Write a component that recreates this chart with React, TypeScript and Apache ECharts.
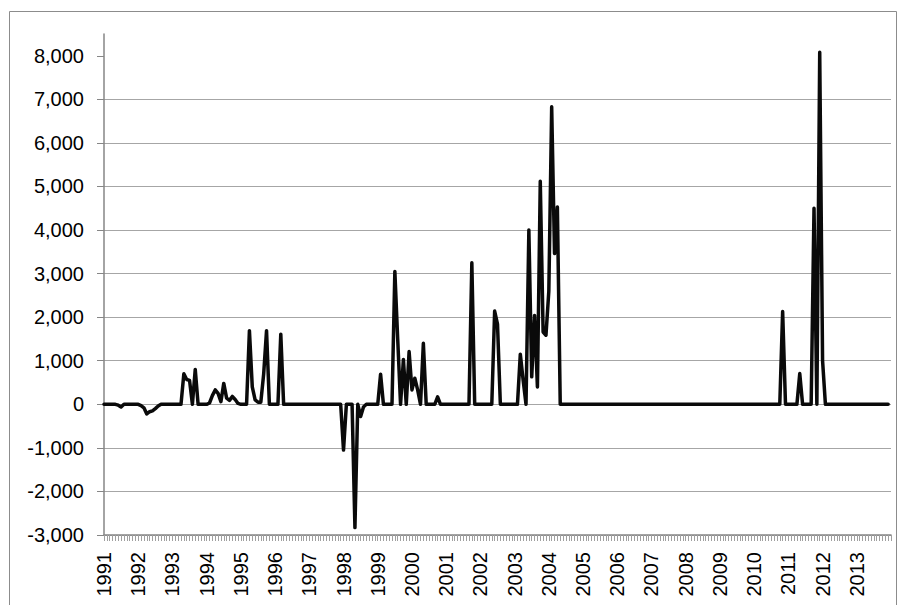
import React, { useEffect, useRef } from "react";
import * as echarts from "echarts";

// Monthly values, Jan 1991 .. Dec 2013 (one row per year)
const values1991to1997: number[] = [
  /*1991*/ 0, 0, 0, 0, 0, -20, -60, 0, 0, 0, 0, 0,
  /*1992*/ 0, -30, -80, -220, -170, -150, -100, -40, 0, 0, 0, 0,
  /*1993*/ 0, 0, 0, 0, 700, 570, 550, 0, 800, 0, 0, 0,
  /*1994*/ 0, 30, 200, 330, 250, 60, 480, 140, 90, 180, 110, 20,
  /*1995*/ 0, 0, 0, 1690, 400, 100, 50, 50, 700, 1690, 0, 0,
  /*1996*/ 0, 0, 1610, 0, 0, 0, 0, 0, 0, 0, 0, 0,
  /*1997*/ 0, 0, 0, 0, 0, 0, 0, 0, 0, 0, 0, 0,
];
const values1998to2004: number[] = [
  /*1998*/ -1050, 0, 0, 0, -2830, 0, -280, -60, 0, 0, 0, 0,
  /*1999*/ 0, 690, 0, 0, 0, 0, 3050, 1500, 0, 1030, 0, 1210,
  /*2000*/ 330, 600, 330, 0, 1400, 0, 0, 0, 0, 170, 0, 0,
  /*2001*/ 0, 0, 0, 0, 0, 0, 0, 0, 0, 3250, 0, 0,
  /*2002*/ 0, 0, 0, 0, 0, 2140, 1840, 0, 0, 0, 0, 0,
  /*2003*/ 0, 0, 1150, 550, 0, 4000, 630, 2040, 400, 5120, 1660, 1585,
  /*2004*/ 2600, 6830, 3460, 4530, 0, 0, 0, 0, 0, 0, 0, 0,
];
const values2005to2013: number[] = [
  /*2005*/ 0, 0, 0, 0, 0, 0, 0, 0, 0, 0, 0, 0,
  /*2006*/ 0, 0, 0, 0, 0, 0, 0, 0, 0, 0, 0, 0,
  /*2007*/ 0, 0, 0, 0, 0, 0, 0, 0, 0, 0, 0, 0,
  /*2008*/ 0, 0, 0, 0, 0, 0, 0, 0, 0, 0, 0, 0,
  /*2009*/ 0, 0, 0, 0, 0, 0, 0, 0, 0, 0, 0, 0,
  /*2010*/ 0, 0, 0, 0, 0, 0, 0, 0, 0, 0, 2130, 0,
  /*2011*/ 0, 0, 0, 0, 705, 0, 0, 0, 0, 4500, 0, 8080,
  /*2012*/ 1000, 0, 0, 0, 0, 0, 0, 0, 0, 0, 0, 0,
  /*2013*/ 0, 0, 0, 0, 0, 0, 0, 0, 0, 0, 0, 0,
];

const yearLabels: string[] = [
  "1991", "1992", "1993", "1994", "1995", "1996", "1997", "1998", "1999", "2000",
  "2001", "2002", "2003", "2004", "2005", "2006", "2007", "2008", "2009", "2010",
  "2011", "2012", "2013",
];

const yTicks: number[] = [-3000, -2000, -1000, 0, 1000, 2000, 3000, 4000, 5000, 6000, 7000, 8000];

const FONT = "'Liberation Sans', Arial, sans-serif";

export default function App() {
  const ref = useRef<HTMLDivElement>(null);

  useEffect(() => {
    document.body.style.margin = "0";
    if (!ref.current) return;
    const chart = echarts.init(ref.current, undefined, { renderer: "svg" });
    const all = [...values1991to1997, ...values1998to2004, ...values2005to2013];
    const data = all.map((v, i) => [i, v]);
    const monthsTotal = yearLabels.length * 12;

    chart.setOption({
      animation: false,
      backgroundColor: "#ffffff",
      grid: { left: 104, right: 8, top: 34, bottom: 70, containLabel: false },
      xAxis: {
        type: "value",
        min: 0,
        max: monthsTotal,
        interval: 12,
        axisLine: { show: true, onZero: false, lineStyle: { color: "#868686", width: 1.5 } },
        axisTick: { show: true, length: 6, inside: false, lineStyle: { color: "#a0a0a0", width: 1 } },
        minorTick: { show: true, splitNumber: 12, length: 6, lineStyle: { color: "#a0a0a0", width: 1 } },
        splitLine: { show: false },
        minorSplitLine: { show: false },
        axisLabel: {
          rotate: 90,
          margin: 17,
          fontSize: 20,
          color: "#000",
          fontFamily: FONT,
          showMaxLabel: false,
          formatter: (v: number) => yearLabels[Math.round(v / 12)] ?? "",
        },
      },
      yAxis: {
        type: "value",
        min: -3000,
        max: 8500,
        interval: 1000,
        axisLine: { show: true, lineStyle: { color: "#868686", width: 1.5 } },
        axisTick: { show: true, length: 7, customValues: yTicks, lineStyle: { color: "#868686", width: 1 } },
        axisLabel: {
          customValues: yTicks,
          margin: 20,
          fontSize: 20,
          color: "#000",
          fontFamily: FONT,
          formatter: (v: number) => (v > 8000 ? "" : v.toLocaleString("en-US")),
        },
        splitLine: { show: true, showMaxLine: false, lineStyle: { color: "#a6a6a6", width: 1 } },
      },
      graphic: [
        {
          type: "rect",
          silent: true,
          z: 100,
          shape: { x: 9.5, y: 11.5, width: 887, height: 620 },
          style: { fill: "none", stroke: "#8c8c8c", lineWidth: 1 },
        },
      ],
      series: [
        {
          type: "line",
          data,
          symbol: "none",
          showSymbol: false,
          lineStyle: { color: "#0a0a0a", width: 3.5, join: "round", cap: "round" },
        },
      ],
    });

    return () => chart.dispose();
  }, []);

  return (
    <div
      ref={ref}
      style={{ position: "absolute", left: 0, top: 0, width: 899, height: 605, background: "#fff" }}
    />
  );
}
